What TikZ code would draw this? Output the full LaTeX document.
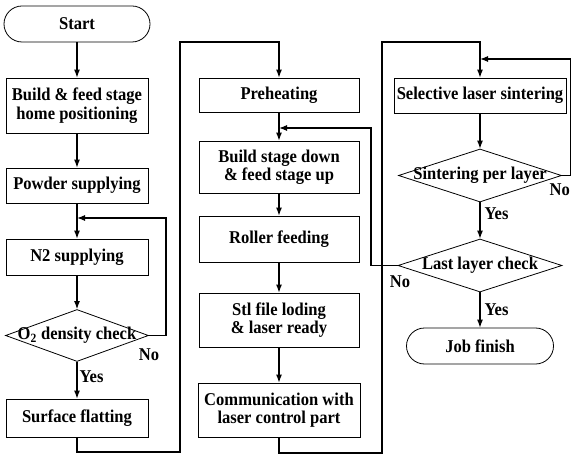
\documentclass[tikz,border=0pt]{standalone}
\usepackage{fontspec}
\setmainfont{Liberation Serif}[FakeStretch=0.92]
\usetikzlibrary{arrows.meta,shapes.geometric}
\begin{document}
\begin{tikzpicture}[x=1bp,y=-1bp,
  every node/.style={font=\fontsize{18bp}{18.5bp}\selectfont\bfseries},
  box/.style={draw, line width=0.8bp, rectangle, inner sep=0pt, align=center},
  term/.style={box, rounded corners=18bp},
  dia/.style={draw, diamond, line width=0.8bp, inner sep=0pt},
  lbl/.style={inner sep=1bp},
  ln/.style={line width=1.1bp},
  arr/.style={line width=1.1bp, -{Latex[length=8bp,width=6bp]}}]
\useasboundingbox (0,0) rectangle (572,456);
% column 1
\node[term, minimum width=146bp, minimum height=36bp] (start) at (77,24) {Start};
\node[box, minimum width=142bp, minimum height=55bp] (b1) at (77,105.5) {Build \& feed stage\\home positioning};
\node[box, minimum width=142bp, minimum height=35bp] (b2) at (77,185.5) {Powder supplying};
\node[box, minimum width=142bp, minimum height=36bp] (b3) at (77,257) {N2 supplying};
\node[dia, minimum width=143bp, minimum height=52bp, label={center:O\textsubscript{2} density check}] (d1) at (77,335.5) {};
\node[box, minimum width=142bp, minimum height=38bp] (b4) at (77,418) {Surface flatting};
% column 2
\node[box, minimum width=160bp, minimum height=34bp] (b5) at (279,95) {Preheating};
\node[box, minimum width=160bp, minimum height=52bp] (b6) at (279,167) {Build stage down\\\& feed stage up};
\node[box, minimum width=160bp, minimum height=46bp] (b7) at (279,239) {Roller feeding};
\node[box, minimum width=160bp, minimum height=54bp] (b8) at (279,320) {Stl file loding\\\& laser ready};
\node[box, minimum width=162bp, minimum height=54bp] (b9) at (279,410) {Communication with\\laser control part};
% column 3
\node[box, minimum width=172bp, minimum height=35bp] (b10) at (480,95.5) {Selective laser sintering};
\node[dia, minimum width=163bp, minimum height=53bp, label={center:Sintering per layer}] (d2) at (480,175.5) {};
\node[dia, minimum width=164bp, minimum height=53bp, label={center:Last layer check}] (d3) at (480,265.5) {};
\node[term, minimum width=147bp, minimum height=36bp] (jf) at (480,346) {Job finish};
% helper coordinates
\coordinate (m1) at (77,218);
\coordinate (r1) at (166,218);
\coordinate (c1) at (180,452);
\coordinate (c2) at (180,42);
\coordinate (m2) at (279,128);
\coordinate (r2) at (371,128);
\coordinate (c3) at (382,453);
\coordinate (c4) at (382,42);
\coordinate (m3) at (480,59);
\coordinate (r3) at (570.5,59);
% connectors column 1
\draw[arr] (start) -- (b1);
\draw[arr] (b1) -- (b2);
\draw[arr] (b2) -- (b3);
\draw[arr] (b3) -- (d1);
\draw[arr] (d1.east) -| (r1) -- (m1);
\draw[arr] (d1) -- node[lbl, pos=0.4, anchor=west, xshift=1bp] (y1) {Yes} (b4);
\node[lbl] (n1) at (149,355) {No};
\draw[arr] (b4.south) |- (c1) -- (c2) -| (b5.north);
% connectors column 2
\draw[arr] (b5) -- (b6);
\draw[arr] (b6) -- (b7);
\draw[arr] (b7) -- (b8);
\draw[arr] (b8) -- (b9);
\draw[arr] (b9.south) |- (c3) -- (c4) -| (b10.north);
% connectors column 3
\draw[arr] (b10) -- (d2);
\draw[arr] (d2.east) -| (r3) -- (m3);
\node[lbl, anchor=east] (n2) at (571,190) {No};
\draw[arr] (d2) -- node[lbl, pos=0.3, anchor=west, xshift=3bp] (y2) {Yes} (d3);
\draw[arr] (d3.west) -| (r2) -- (m2);
\node[lbl] (n3) at (400,282) {No};
\draw[arr] (d3) -- node[lbl, pos=0.5, anchor=west, xshift=3bp] (y3) {Yes} (jf);
\end{tikzpicture}
\end{document}
